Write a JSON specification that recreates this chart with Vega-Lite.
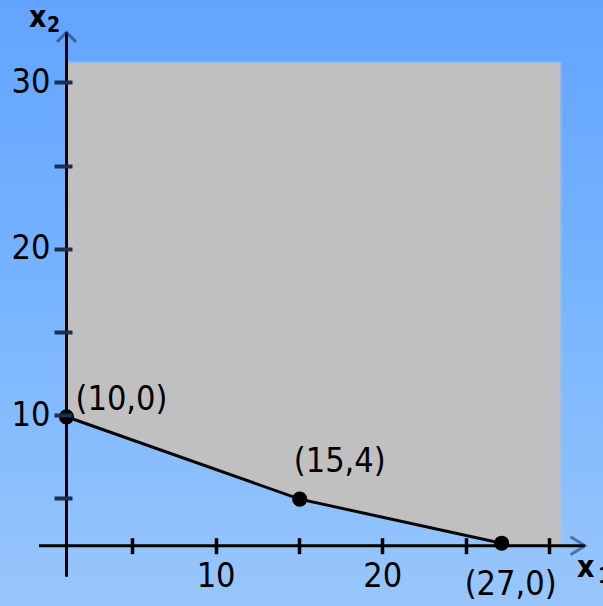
{
  "$schema": "https://vega.github.io/schema/vega-lite/v6.json",
  "width": 603,
  "height": 606,
  "autosize": {"type": "none"},
  "padding": 0,
  "background": "#7ab6fd",
  "config": {
    "view": {"stroke": null},
    "font": "Liberation Sans Narrow, DejaVu Sans Condensed, sans-serif"
  },
  "datasets": {
    "region": [
      {"x1": 1.05, "x2": 9.9},
      {"x1": 15.05, "x2": 4.95},
      {"x1": 27.17, "x2": 2.3},
      {"x1": 28.0, "x2": 2.15},
      {"x1": 30.67, "x2": 2.15}
    ],
    "vertices": [
      {"x1": 1.05, "x2": 9.9, "label": "(10,0)"},
      {"x1": 15.05, "x2": 4.95, "label": "(15,4)"},
      {"x1": 27.17, "x2": 2.3, "label": "(27,0)"}
    ],
    "one": [{}]
  },
  "layer": [
    {
      "data": {"name": "one"},
      "mark": {
        "type": "rect",
        "color": {
          "gradient": "linear",
          "x1": 0, "y1": 0, "x2": 0, "y2": 1,
          "stops": [
            {"offset": 0, "color": "#62a4ff"},
            {"offset": 0.5, "color": "#78b5ff"},
            {"offset": 1, "color": "#98c6fa"}
          ]
        }
      },
      "encoding": {
        "x": {
          "datum": -2.941, "type": "quantitative", "title": null,
          "scale": {"domain": [-2.941, 33.253], "nice": false, "zero": false},
          "axis": {
            "orient": "bottom", "offset": -68.3, "zindex": 1,
            "domain": false, "grid": false,
            "values": [5, 10, 15, 20, 25, 30],
            "labelExpr": "datum.value === 10 || datum.value === 20 ? datum.label : ''",
            "tickSize": 16, "tickWidth": 3.5, "tickColor": "#000000",
            "labelFontSize": 34, "labelColor": "#000000", "labelPadding": 5.5,
            "labelFlush": false, "labelOverlap": false
          }
        },
        "x2": {"datum": 33.253},
        "y": {
          "datum": -1.472, "type": "quantitative", "title": null,
          "scale": {"domain": [-1.472, 34.946], "nice": false, "zero": false},
          "axis": {
            "orient": "left", "offset": -72, "zindex": 1,
            "domain": false, "grid": false,
            "values": [5, 10, 15, 20, 25, 30],
            "labelExpr": "datum.value % 10 === 0 ? datum.label : ''",
            "tickSize": 18, "tickWidth": 4, "tickColor": "#1d3050",
            "labelFontSize": 34, "labelColor": "#000000", "labelPadding": 4,
            "labelBaseline": "middle", "labelAlign": "right",
            "labelFlush": false, "labelOverlap": false
          }
        },
        "y2": {"datum": 34.946}
      }
    },
    {
      "data": {"name": "region"},
      "mark": {"type": "area", "color": "#c0c0c0", "stroke": "#c0c0c0", "strokeWidth": 4, "strokeOpacity": 0.5},
      "encoding": {
        "x": {"field": "x1", "type": "quantitative", "title": null},
        "y": {"field": "x2", "type": "quantitative", "title": null},
        "y2": {"datum": 31.16}
      }
    },
    {
      "data": {"name": "vertices"},
      "mark": {"type": "line", "color": "#05070d", "strokeWidth": 3},
      "encoding": {
        "x": {"field": "x1", "type": "quantitative", "title": null},
        "y": {"field": "x2", "type": "quantitative", "title": null}
      }
    },
    {
      "data": {"name": "one"},
      "mark": {"type": "rule", "color": "#000000", "strokeWidth": 3},
      "encoding": {
        "x": {"datum": 1.05, "type": "quantitative", "title": null},
        "y": {"datum": 0.29, "type": "quantitative", "title": null},
        "y2": {"datum": 33.0}
      }
    },
    {
      "data": {"name": "one"},
      "mark": {"type": "rule", "color": "#000000", "strokeWidth": 3},
      "encoding": {
        "y": {"datum": 2.15, "type": "quantitative", "title": null},
        "x": {"datum": -0.6, "type": "quantitative", "title": null},
        "x2": {"datum": 32.17}
      }
    },
    {
      "data": {"name": "one"},
      "mark": {"type": "point", "shape": "M -1 1 L 0 0 L 1 1", "filled": false, "size": 361, "stroke": "#10204a", "strokeWidth": 3, "strokeOpacity": 0.7},
      "encoding": {
        "x": {"datum": 1.05, "type": "quantitative", "title": null},
        "y": {"datum": 33.0, "type": "quantitative", "title": null}
      }
    },
    {
      "data": {"name": "one"},
      "mark": {"type": "point", "shape": "M -1.6 -1 L 0 0 L -1.6 1", "filled": false, "size": 324, "stroke": "#10204a", "strokeWidth": 3, "strokeOpacity": 0.7},
      "encoding": {
        "x": {"datum": 32.17, "type": "quantitative", "title": null},
        "y": {"datum": 2.15, "type": "quantitative", "title": null}
      }
    },
    {
      "data": {"name": "vertices"},
      "mark": {"type": "point", "filled": true, "color": "#000000", "size": 230, "opacity": 1},
      "encoding": {
        "x": {"field": "x1", "type": "quantitative", "title": null},
        "y": {"field": "x2", "type": "quantitative", "title": null}
      }
    },
    {
      "data": {"name": "vertices"},
      "transform": [{"filter": "datum.label === '(10,0)'"}],
      "mark": {"type": "text", "fontSize": 34, "color": "#000000", "align": "center", "baseline": "alphabetic", "dx": 55, "dy": -7},
      "encoding": {
        "x": {"field": "x1", "type": "quantitative", "title": null},
        "y": {"field": "x2", "type": "quantitative", "title": null},
        "text": {"field": "label"}
      }
    },
    {
      "data": {"name": "vertices"},
      "transform": [{"filter": "datum.label === '(15,4)'"}],
      "mark": {"type": "text", "fontSize": 34, "color": "#000000", "align": "center", "baseline": "alphabetic", "dx": 40, "dy": -27},
      "encoding": {
        "x": {"field": "x1", "type": "quantitative", "title": null},
        "y": {"field": "x2", "type": "quantitative", "title": null},
        "text": {"field": "label"}
      }
    },
    {
      "data": {"name": "vertices"},
      "transform": [{"filter": "datum.label === '(27,0)'"}],
      "mark": {"type": "text", "fontSize": 34, "color": "#000000", "align": "center", "baseline": "alphabetic", "dx": 9, "dy": 52},
      "encoding": {
        "x": {"field": "x1", "type": "quantitative", "title": null},
        "y": {"field": "x2", "type": "quantitative", "title": null},
        "text": {"field": "label"}
      }
    },
    {
      "data": {"name": "one"},
      "mark": {"type": "text", "fontSize": 30, "fontWeight": "bold", "color": "#000000", "align": "left", "baseline": "alphabetic", "text": "x"},
      "encoding": {
        "x": {"datum": -1.2, "type": "quantitative", "title": null},
        "y": {"datum": 33.32, "type": "quantitative", "title": null}
      }
    },
    {
      "data": {"name": "one"},
      "mark": {"type": "text", "fontSize": 21, "fontWeight": "bold", "color": "#000000", "align": "left", "baseline": "alphabetic", "text": "2"},
      "encoding": {
        "x": {"datum": -0.12, "type": "quantitative", "title": null},
        "y": {"datum": 33.02, "type": "quantitative", "title": null}
      }
    },
    {
      "data": {"name": "one"},
      "mark": {"type": "text", "fontSize": 30, "fontWeight": "bold", "color": "#000000", "align": "left", "baseline": "alphabetic", "text": "x"},
      "encoding": {
        "x": {"datum": 31.69, "type": "quantitative", "title": null},
        "y": {"datum": 0.27, "type": "quantitative", "title": null}
      }
    },
    {
      "data": {"name": "one"},
      "mark": {"type": "text", "fontSize": 21, "fontWeight": "bold", "color": "#000000", "align": "left", "baseline": "alphabetic", "text": "1"},
      "encoding": {
        "x": {"datum": 32.95, "type": "quantitative", "title": null},
        "y": {"datum": -0.09, "type": "quantitative", "title": null}
      }
    }
  ]
}
